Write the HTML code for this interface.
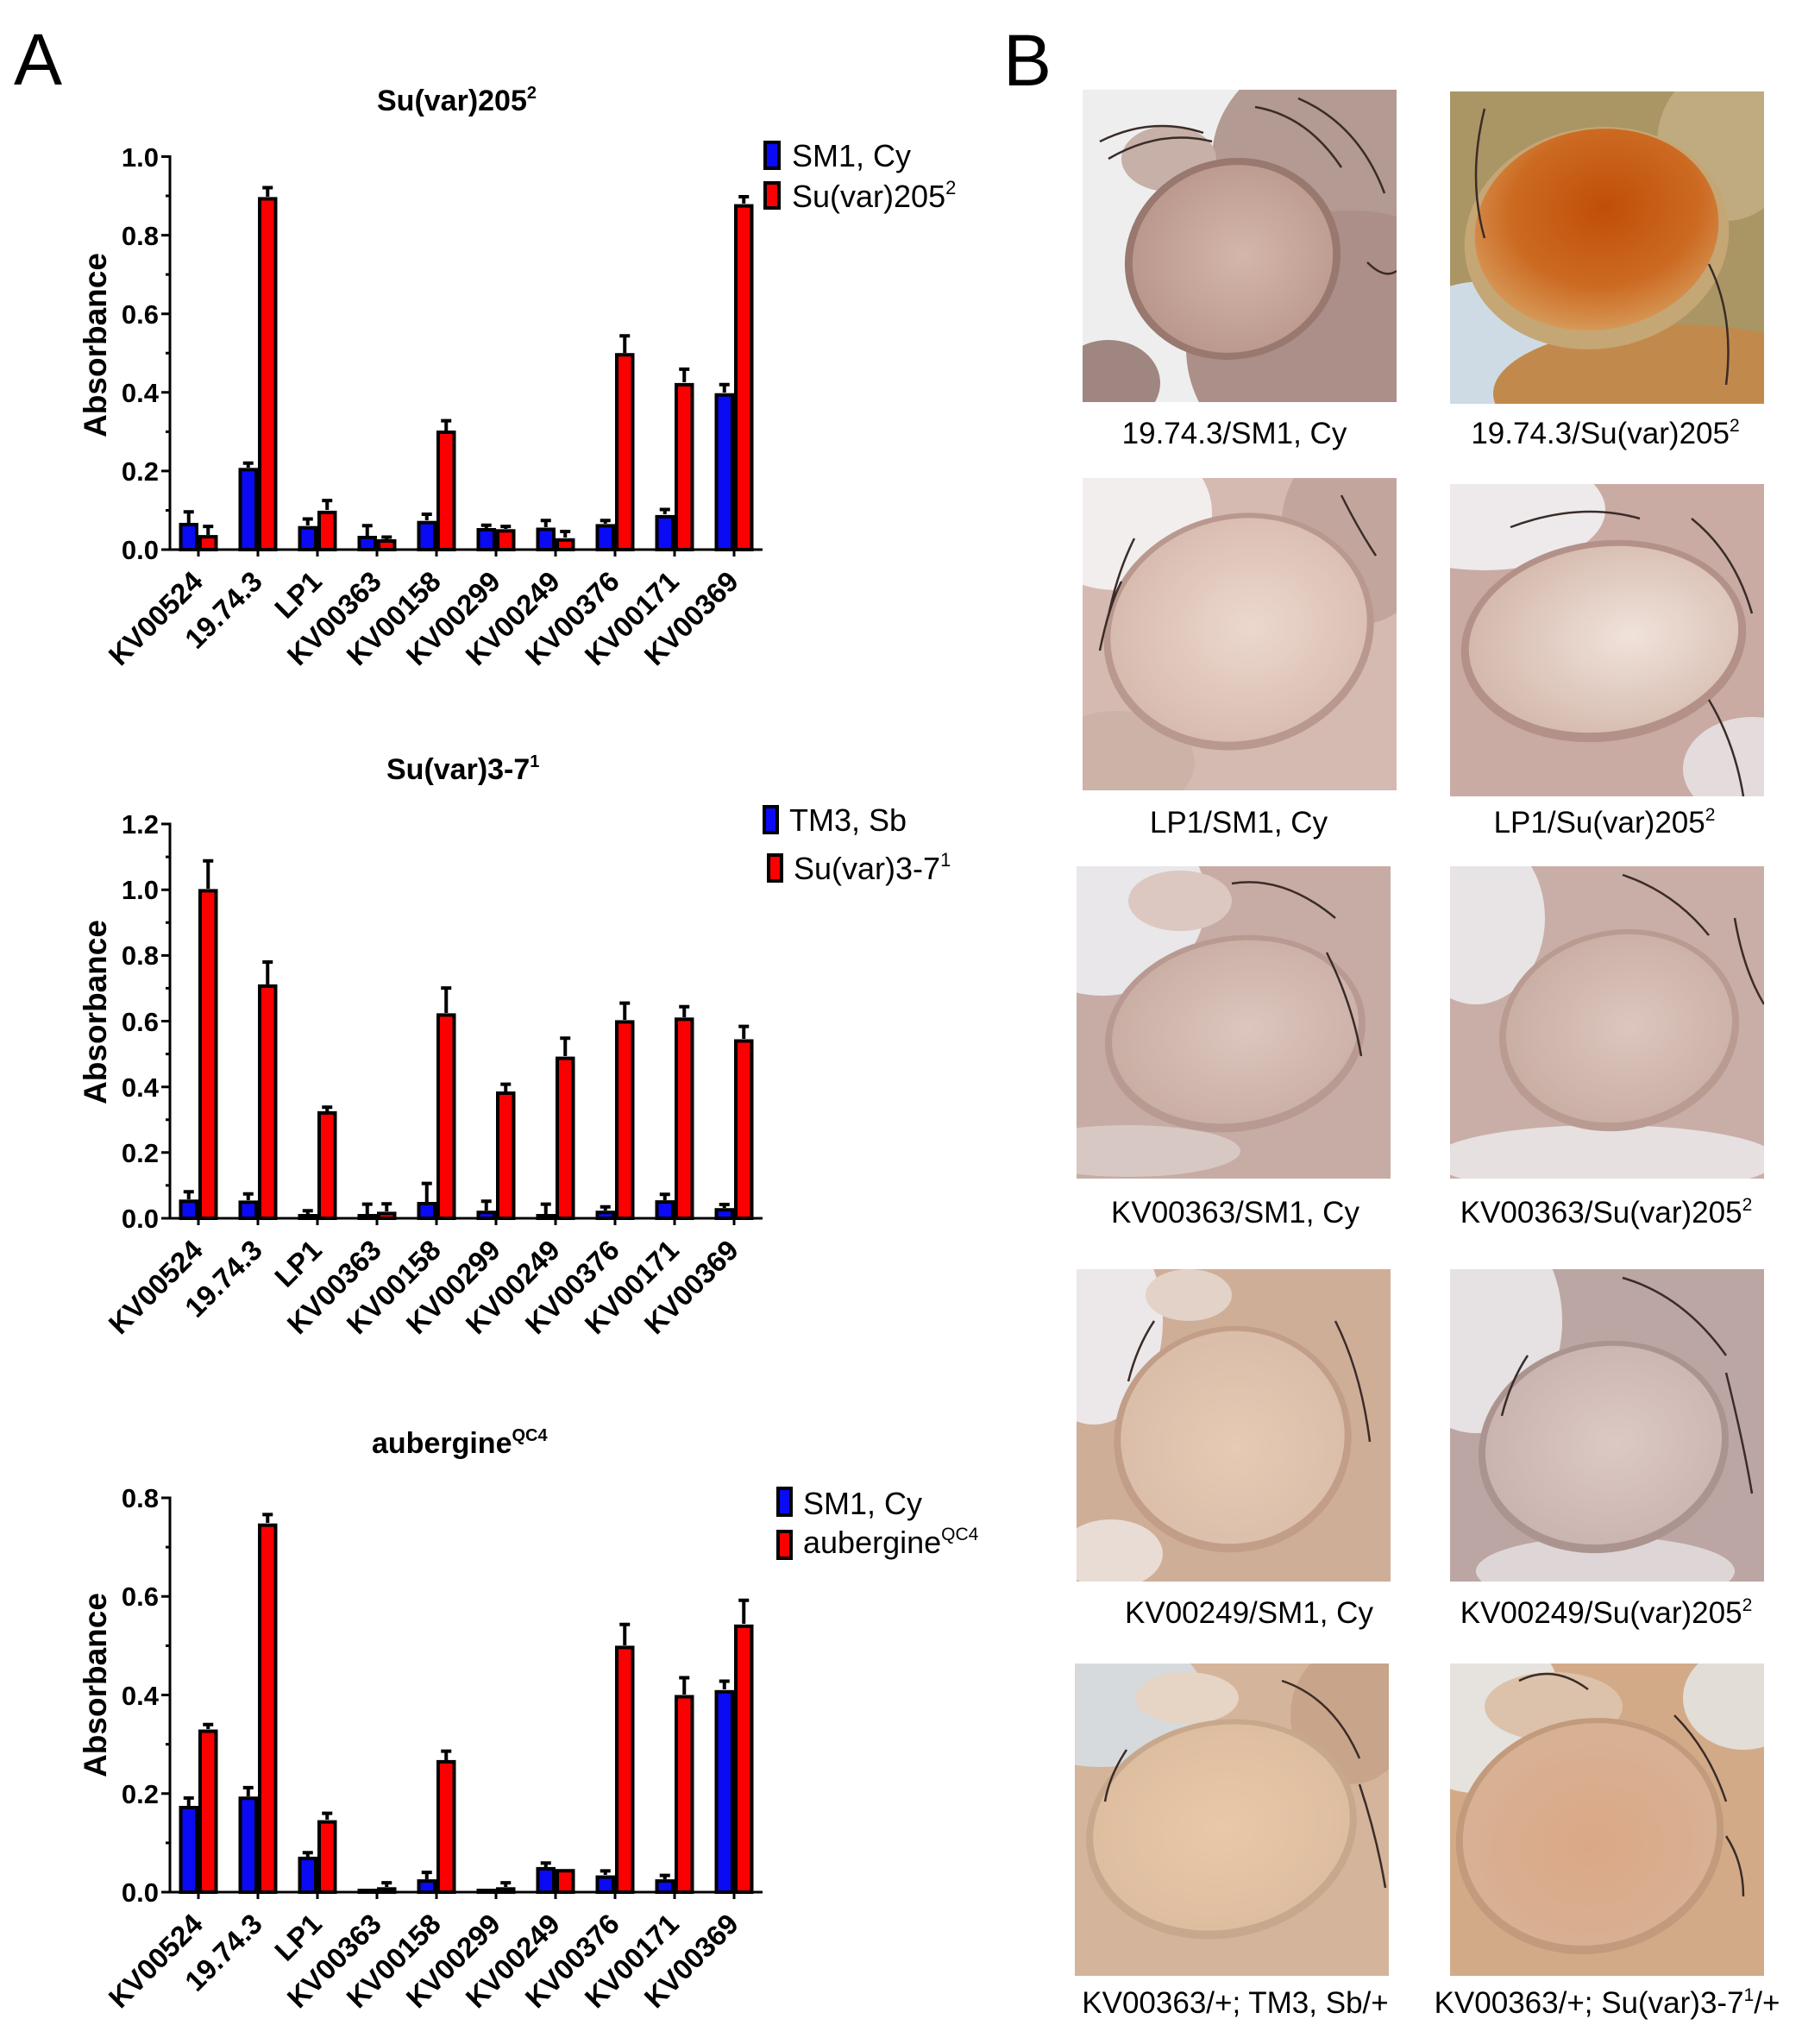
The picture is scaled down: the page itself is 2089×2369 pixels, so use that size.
<!DOCTYPE html>
<html><head><meta charset="utf-8">
<style>
html,body{margin:0;padding:0;background:#fff;}
svg{display:block;}
.f{font-family:"Liberation Sans",Arial,sans-serif;}
.tk{font:bold 31px "Liberation Sans",Arial,sans-serif;text-anchor:end;}
.xl{font:bold 33px "Liberation Sans",Arial,sans-serif;text-anchor:end;}
.yl{font:bold 37px "Liberation Sans",Arial,sans-serif;text-anchor:middle;}
.tt{font:bold 34px "Liberation Sans",Arial,sans-serif;}
.lg{font:36px "Liberation Sans",Arial,sans-serif;}
.pl{font:35px "Liberation Sans",Arial,sans-serif;text-anchor:middle;}
.bl{fill:#0a0af5;stroke:#000;stroke-width:4;}
.rd{fill:#fb0000;stroke:#000;stroke-width:4;}
.ax{stroke:#000;stroke-width:3;fill:none;}
.eb{stroke:#000;stroke-width:4;fill:none;}
.br{stroke:#3a2c28;stroke-width:2.5;fill:none;}
</style></head>
<body>
<svg width="2089" height="2369" viewBox="0 0 2089 2369" xmlns="http://www.w3.org/2000/svg">
<defs>
<clipPath id="cp"><rect x="0" y="0" width="364" height="362"/></clipPath>
<radialGradient id="e1" cx="0.55" cy="0.5" r="0.6"><stop offset="0" stop-color="#d4b6aa"/><stop offset="1" stop-color="#b8958a"/></radialGradient>
<radialGradient id="e2" cx="0.55" cy="0.4" r="0.65"><stop offset="0" stop-color="#c04e08"/><stop offset="0.6" stop-color="#cc6a22"/><stop offset="1" stop-color="#d8a060"/></radialGradient>
<radialGradient id="e3" cx="0.55" cy="0.5" r="0.6"><stop offset="0" stop-color="#ecd8ce"/><stop offset="1" stop-color="#d6b8ac"/></radialGradient>
<radialGradient id="e4" cx="0.6" cy="0.5" r="0.6"><stop offset="0" stop-color="#f0e2da"/><stop offset="1" stop-color="#d4b8ac"/></radialGradient>
<radialGradient id="e5" cx="0.55" cy="0.5" r="0.6"><stop offset="0" stop-color="#dcc6be"/><stop offset="1" stop-color="#c8aca2"/></radialGradient>
<radialGradient id="e7" cx="0.5" cy="0.55" r="0.6"><stop offset="0" stop-color="#e6cab4"/><stop offset="1" stop-color="#d8bca8"/></radialGradient>
<radialGradient id="e8" cx="0.55" cy="0.5" r="0.6"><stop offset="0" stop-color="#dcc8c4"/><stop offset="1" stop-color="#c8b2ae"/></radialGradient>
<radialGradient id="e9" cx="0.5" cy="0.5" r="0.6"><stop offset="0" stop-color="#e8c8a8"/><stop offset="1" stop-color="#dcbc9e"/></radialGradient>
<radialGradient id="e10" cx="0.5" cy="0.55" r="0.6"><stop offset="0" stop-color="#daa886"/><stop offset="1" stop-color="#d8b296"/></radialGradient>
</defs>

<!-- Panel letters -->
<text x="16" y="98" class="f" font-size="84">A</text>
<text x="1163" y="99" class="f" font-size="84">B</text>

<!-- ============ CHART 1 ============ -->
<text x="437" y="128" class="tt">Su(var)205<tspan font-size="20" dy="-14">2</tspan></text>
<text transform="translate(123,400) rotate(-90)" class="yl">Absorbance</text>
<path class="ax" d="M197 180V638.5M195.5 637H884M187 637H197M187 545.9H197M187 454.8H197M187 363.7H197M187 272.6H197M187 181.5H197M192 591.45H197M192 500.35H197M192 409.25H197M192 318.15H197M192 227.05H197M230 637V645M299 637V645M368 637V645M437 637V645M506 637V645M575 637V645M644 637V645M713 637V645M782 637V645M851 637V645"/>
<text x="184" y="648" class="tk">0.0</text>
<text x="184" y="557" class="tk">0.2</text>
<text x="184" y="466" class="tk">0.4</text>
<text x="184" y="375" class="tk">0.6</text>
<text x="184" y="284" class="tk">0.8</text>
<text x="184" y="193" class="tk">1.0</text>
<g>
<rect class="bl" x="209.5" y="608" width="18.5" height="29"/>
<rect class="rd" x="232" y="622.1" width="18.5" height="14.9"/>
<rect class="bl" x="278.5" y="544.3" width="18.5" height="92.7"/>
<rect class="rd" x="301" y="230.4" width="18.5" height="406.6"/>
<rect class="bl" x="347.5" y="611.7" width="18.5" height="25.3"/>
<rect class="rd" x="370" y="593.9" width="18.5" height="43.1"/>
<rect class="bl" x="416.5" y="623" width="18.5" height="14"/>
<rect class="rd" x="439" y="627" width="18.5" height="10"/>
<rect class="bl" x="485.5" y="605.7" width="18.5" height="31.3"/>
<rect class="rd" x="508" y="501" width="18.5" height="136"/>
<rect class="bl" x="554.5" y="614" width="18.5" height="23"/>
<rect class="rd" x="577" y="615.3" width="18.5" height="21.7"/>
<rect class="bl" x="623.5" y="613.5" width="18.5" height="23.5"/>
<rect class="rd" x="646" y="625.8" width="18.5" height="11.2"/>
<rect class="bl" x="692.5" y="609.4" width="18.5" height="27.6"/>
<rect class="rd" x="715" y="411.2" width="18.5" height="225.8"/>
<rect class="bl" x="761.5" y="598.9" width="18.5" height="38.1"/>
<rect class="rd" x="784" y="445.9" width="18.5" height="191.1"/>
<rect class="bl" x="830.5" y="457.7" width="18.5" height="179.3"/>
<rect class="rd" x="853" y="238.6" width="18.5" height="398.4"/>
</g>
<path class="eb" d="M218.75 606V593.3M212.75 593.3H224.75M241.25 620V610.1M235.25 610.1H247.25M287.75 542V536.8M281.75 536.8H293.75M310.25 228V217.5M304.25 217.5H316.25M356.75 609V601.5M350.75 601.5H362.75M379.25 591V580.1M373.25 580.1H385.25M425.75 621V609.3M419.75 609.3H431.75M448.25 625V622.5M442.25 622.5H454.25M494.75 603V596M488.75 596H500.75M517.25 499V487.6M511.25 487.6H523.25M563.75 612V608.8M557.75 608.8H569.75M586.25 613V610.1M580.25 610.1H592.25M632.75 611V603.3M626.75 603.3H638.75M655.25 623V616M649.25 616H661.25M701.75 607V603.3M695.75 603.3H707.75M724.25 409V389.2M718.25 389.2H730.25M770.75 596V590.5M764.75 590.5H776.75M793.25 443V427.9M787.25 427.9H799.25M839.75 455V445.7M833.75 445.7H845.75M862.25 236V228M856.25 228H868.25"/>
<text transform="translate(237,676) rotate(-45)" class="xl">KV00524</text>
<text transform="translate(306,676) rotate(-45)" class="xl">19.74.3</text>
<text transform="translate(375,676) rotate(-45)" class="xl">LP1</text>
<text transform="translate(444,676) rotate(-45)" class="xl">KV00363</text>
<text transform="translate(513,676) rotate(-45)" class="xl">KV00158</text>
<text transform="translate(582,676) rotate(-45)" class="xl">KV00299</text>
<text transform="translate(651,676) rotate(-45)" class="xl">KV00249</text>
<text transform="translate(720,676) rotate(-45)" class="xl">KV00376</text>
<text transform="translate(789,676) rotate(-45)" class="xl">KV00171</text>
<text transform="translate(858,676) rotate(-45)" class="xl">KV00369</text>
<rect class="bl" x="887" y="165" width="16" height="30"/>
<rect class="rd" x="887" y="212" width="16" height="29"/>
<text x="918" y="193" class="lg">SM1, Cy</text>
<text x="918" y="240" class="lg">Su(var)205<tspan font-size="22" dy="-15">2</tspan></text>

<!-- ============ CHART 2 ============ -->
<g transform="translate(0,-2)">
<text x="448" y="905" class="tt">Su(var)3-7<tspan font-size="20" dy="-14">1</tspan></text>
<text transform="translate(123,1175) rotate(-90)" class="yl">Absorbance</text>
<path class="ax" d="M197 955.5V1415.5M195.5 1414H884M187 1414H197M187 1337.8H197M187 1261.7H197M187 1185.5H197M187 1109.4H197M187 1033.2H197M187 957H197M192 1375.9H197M192 1299.8H197M192 1223.6H197M192 1147.4H197M192 1071.3H197M192 995.1H197M230 1414V1422M299 1414V1422M368 1414V1422M437 1414V1422M506 1414V1422M575 1414V1422M644 1414V1422M713 1414V1422M782 1414V1422M851 1414V1422"/>
<text x="184" y="1425" class="tk">0.0</text>
<text x="184" y="1349" class="tk">0.2</text>
<text x="184" y="1273" class="tk">0.4</text>
<text x="184" y="1197" class="tk">0.6</text>
<text x="184" y="1120" class="tk">0.8</text>
<text x="184" y="1044" class="tk">1.0</text>
<text x="184" y="968" class="tk">1.2</text>
<g>
<rect class="bl" x="209.5" y="1394.3" width="18.5" height="19.7"/>
<rect class="rd" x="232" y="1034.4" width="18.5" height="379.6"/>
<rect class="bl" x="278.5" y="1395.4" width="18.5" height="18.6"/>
<rect class="rd" x="301" y="1144.9" width="18.5" height="269.1"/>
<rect class="bl" x="347.5" y="1411" width="18.5" height="3"/>
<rect class="rd" x="370" y="1291.9" width="18.5" height="122.1"/>
<rect class="bl" x="416.5" y="1411" width="18.5" height="3"/>
<rect class="rd" x="439" y="1408.4" width="18.5" height="5.6"/>
<rect class="bl" x="485.5" y="1397" width="18.5" height="17"/>
<rect class="rd" x="508" y="1178.4" width="18.5" height="235.6"/>
<rect class="bl" x="554.5" y="1407.2" width="18.5" height="6.8"/>
<rect class="rd" x="577" y="1269" width="18.5" height="145"/>
<rect class="bl" x="623.5" y="1411" width="18.5" height="3"/>
<rect class="rd" x="646" y="1228.6" width="18.5" height="185.4"/>
<rect class="bl" x="692.5" y="1407.2" width="18.5" height="6.8"/>
<rect class="rd" x="715" y="1186.4" width="18.5" height="227.6"/>
<rect class="bl" x="761.5" y="1395.1" width="18.5" height="18.9"/>
<rect class="rd" x="784" y="1183.3" width="18.5" height="230.7"/>
<rect class="bl" x="830.5" y="1404.2" width="18.5" height="9.8"/>
<rect class="rd" x="853" y="1208.5" width="18.5" height="205.5"/>
</g>
<path class="eb" d="M218.75 1392V1383.2M212.75 1383.2H224.75M241.25 1032V999.7M235.25 999.7H247.25M287.75 1393V1385.8M281.75 1385.8H293.75M310.25 1143V1117M304.25 1117H316.25M356.75 1409V1405.2M350.75 1405.2H362.75M379.25 1290V1285.3M373.25 1285.3H385.25M425.75 1409V1397.6M419.75 1397.6H431.75M448.25 1406V1397.2M442.25 1397.2H454.25M494.75 1395V1373.6M488.75 1373.6H500.75M517.25 1176V1147.1M511.25 1147.1H523.25M563.75 1405V1394.2M557.75 1394.2H569.75M586.25 1267V1258.6M580.25 1258.6H592.25M632.75 1409V1397.6M626.75 1397.6H638.75M655.25 1226V1205.3M649.25 1205.3H661.25M701.75 1405V1400.7M695.75 1400.7H707.75M724.25 1184V1164.6M718.25 1164.6H730.25M770.75 1393V1386.2M764.75 1386.2H776.75M793.25 1181V1168.8M787.25 1168.8H799.25M839.75 1402V1398M833.75 1398H845.75M862.25 1206V1191.6M856.25 1191.6H868.25"/>
<text transform="translate(237,1453) rotate(-45)" class="xl">KV00524</text>
<text transform="translate(306,1453) rotate(-45)" class="xl">19.74.3</text>
<text transform="translate(375,1453) rotate(-45)" class="xl">LP1</text>
<text transform="translate(444,1453) rotate(-45)" class="xl">KV00363</text>
<text transform="translate(513,1453) rotate(-45)" class="xl">KV00158</text>
<text transform="translate(582,1453) rotate(-45)" class="xl">KV00299</text>
<text transform="translate(651,1453) rotate(-45)" class="xl">KV00249</text>
<text transform="translate(720,1453) rotate(-45)" class="xl">KV00376</text>
<text transform="translate(789,1453) rotate(-45)" class="xl">KV00171</text>
<text transform="translate(858,1453) rotate(-45)" class="xl">KV00369</text>
<rect class="bl" x="886" y="937" width="15" height="30"/>
<rect class="rd" x="891" y="993" width="15" height="30"/>
<text x="915" y="965" class="lg">TM3, Sb</text>
<text x="920" y="1021" class="lg">Su(var)3-7<tspan font-size="22" dy="-15">1</tspan></text>
</g>

<!-- ============ CHART 3 ============ -->
<text x="431" y="1684" class="tt">aubergine<tspan font-size="20" dy="-14">QC4</tspan></text>
<text transform="translate(123,1953) rotate(-90)" class="yl">Absorbance</text>
<path class="ax" d="M197 1734.5V2194.5M195.5 2193H884M187 2193H197M187 2078.75H197M187 1964.5H197M187 1850.25H197M187 1736H197M192 2135.9H197M192 2021.6H197M192 1907.4H197M192 1793.1H197M230 2193V2201M299 2193V2201M368 2193V2201M437 2193V2201M506 2193V2201M575 2193V2201M644 2193V2201M713 2193V2201M782 2193V2201M851 2193V2201"/>
<text x="184" y="2204" class="tk">0.0</text>
<text x="184" y="2090" class="tk">0.2</text>
<text x="184" y="1976" class="tk">0.4</text>
<text x="184" y="1861" class="tk">0.6</text>
<text x="184" y="1747" class="tk">0.8</text>
<g>
<rect class="bl" x="209.5" y="2095" width="18.5" height="98"/>
<rect class="rd" x="232" y="2006.5" width="18.5" height="186.5"/>
<rect class="bl" x="278.5" y="2084.2" width="18.5" height="108.8"/>
<rect class="rd" x="301" y="1767.7" width="18.5" height="425.3"/>
<rect class="bl" x="347.5" y="2153.9" width="18.5" height="39.1"/>
<rect class="rd" x="370" y="2111.6" width="18.5" height="81.4"/>
<rect class="bl" x="416.5" y="2191" width="18.5" height="2"/>
<rect class="rd" x="439" y="2189.3" width="18.5" height="3.7"/>
<rect class="bl" x="485.5" y="2180.1" width="18.5" height="12.9"/>
<rect class="rd" x="508" y="2041.9" width="18.5" height="151.1"/>
<rect class="bl" x="554.5" y="2191" width="18.5" height="2"/>
<rect class="rd" x="577" y="2189.3" width="18.5" height="3.7"/>
<rect class="bl" x="623.5" y="2165.9" width="18.5" height="27.1"/>
<rect class="rd" x="646" y="2168.2" width="18.5" height="24.8"/>
<rect class="bl" x="692.5" y="2175.6" width="18.5" height="17.4"/>
<rect class="rd" x="715" y="1909.4" width="18.5" height="283.6"/>
<rect class="bl" x="761.5" y="2180.1" width="18.5" height="12.9"/>
<rect class="rd" x="784" y="1966.5" width="18.5" height="226.5"/>
<rect class="bl" x="830.5" y="1960.8" width="18.5" height="232.2"/>
<rect class="rd" x="853" y="1884.8" width="18.5" height="308.2"/>
</g>
<path class="eb" d="M218.75 2093V2083.9M212.75 2083.9H224.75M241.25 2004V1998.8M235.25 1998.8H247.25M287.75 2082V2071.9M281.75 2071.9H293.75M310.25 1765V1755.4M304.25 1755.4H316.25M356.75 2152V2147.3M350.75 2147.3H362.75M379.25 2109V2101.6M373.25 2101.6H385.25M448.25 2187V2182.1M442.25 2182.1H454.25M494.75 2178V2170.1M488.75 2170.1H500.75M517.25 2040V2029.6M511.25 2029.6H523.25M586.25 2187V2182.1M580.25 2182.1H592.25M632.75 2164V2159.3M626.75 2159.3H638.75M701.75 2173V2168.4M695.75 2168.4H707.75M724.25 1907V1882.8M718.25 1882.8H730.25M770.75 2178V2173.6M764.75 2173.6H776.75M793.25 1964V1944.5M787.25 1944.5H799.25M839.75 1958V1948.5M833.75 1948.5H845.75M862.25 1882V1854.8M856.25 1854.8H868.25"/>
<text transform="translate(237,2232) rotate(-45)" class="xl">KV00524</text>
<text transform="translate(306,2232) rotate(-45)" class="xl">19.74.3</text>
<text transform="translate(375,2232) rotate(-45)" class="xl">LP1</text>
<text transform="translate(444,2232) rotate(-45)" class="xl">KV00363</text>
<text transform="translate(513,2232) rotate(-45)" class="xl">KV00158</text>
<text transform="translate(582,2232) rotate(-45)" class="xl">KV00299</text>
<text transform="translate(651,2232) rotate(-45)" class="xl">KV00249</text>
<text transform="translate(720,2232) rotate(-45)" class="xl">KV00376</text>
<text transform="translate(789,2232) rotate(-45)" class="xl">KV00171</text>
<text transform="translate(858,2232) rotate(-45)" class="xl">KV00369</text>
<rect class="bl" x="902" y="1725" width="15" height="31"/>
<rect class="rd" x="902" y="1775" width="15" height="31"/>
<text x="931" y="1755" class="lg">SM1, Cy</text>
<text x="931" y="1800" class="lg">aubergine<tspan font-size="21" dy="-15">QC4</tspan></text>

<!-- ============ PANEL B PHOTOS ============ -->
<g transform="translate(1255,104)"><g clip-path="url(#cp)">
<rect width="364" height="362" fill="#efeeef"/>
<ellipse cx="300" cy="80" rx="150" ry="130" fill="#b39a92"/>
<ellipse cx="310" cy="300" rx="190" ry="160" fill="#ab8f88"/>
<ellipse cx="30" cy="340" rx="60" ry="50" fill="#a08680"/>
<ellipse cx="100" cy="80" rx="55" ry="38" fill="#c7b0a8"/>
<ellipse cx="174" cy="196" rx="126" ry="116" transform="rotate(-18 174 196)" fill="#98786f"/>
<ellipse cx="174" cy="196" rx="117" ry="108" transform="rotate(-18 174 196)" fill="url(#e1)"/>
<path class="br" d="M20 60Q80 30 140 50M30 80Q90 45 150 60M200 20Q260 30 300 90M250 10Q320 40 350 120M330 200Q350 220 364 210"/>
</g></g>
<g transform="translate(1681,106)"><g clip-path="url(#cp)">
<rect width="364" height="362" fill="#aa9564"/>
<ellipse cx="320" cy="60" rx="80" ry="90" fill="#c0ab80"/>
<ellipse cx="40" cy="300" rx="110" ry="80" fill="#cfdbe4"/>
<ellipse cx="260" cy="350" rx="210" ry="80" fill="#c18a4c"/>
<ellipse cx="170" cy="170" rx="154" ry="128" transform="rotate(-10 170 170)" fill="#c5a675"/>
<ellipse cx="170" cy="160" rx="142" ry="116" transform="rotate(-10 170 160)" fill="url(#e2)"/>
<path class="br" d="M300 200Q330 260 320 340M40 20Q20 100 40 170"/>
</g></g>
<g transform="translate(1255,554)"><g clip-path="url(#cp)">
<rect width="364" height="363" fill="#d4bab0"/>
<ellipse cx="40" cy="40" rx="110" ry="90" fill="#f2eeee"/>
<ellipse cx="320" cy="60" rx="90" ry="110" fill="#c2a69e"/>
<ellipse cx="40" cy="330" rx="90" ry="60" fill="#cdb2a8"/>
<ellipse cx="181" cy="178" rx="158" ry="136" transform="rotate(-15 181 178)" fill="#b9998f"/>
<ellipse cx="181" cy="176" rx="150" ry="128" transform="rotate(-15 181 176)" fill="url(#e3)"/>
<path class="br" d="M60 70Q40 110 30 160M45 120Q30 150 20 200M300 20Q320 60 340 90"/>
</g></g>
<g transform="translate(1681,561)"><g clip-path="url(#cp)">
<rect width="364" height="362" fill="#c9aba3"/>
<ellipse cx="40" cy="30" rx="140" ry="70" fill="#eeeaec"/>
<ellipse cx="350" cy="330" rx="80" ry="60" fill="#e4dcdc"/>
<ellipse cx="178" cy="182" rx="166" ry="116" transform="rotate(-8 178 182)" fill="#b39188"/>
<ellipse cx="178" cy="180" rx="157" ry="107" transform="rotate(-8 178 180)" fill="url(#e4)"/>
<path class="br" d="M70 50Q150 20 220 40M280 40Q330 80 350 150M300 250Q330 300 340 362"/>
</g></g>
<g transform="translate(1248,1004)"><g clip-path="url(#cp)">
<rect width="364" height="365" fill="#c7aca5"/>
<ellipse cx="30" cy="40" rx="120" ry="110" fill="#e9e7ea"/>
<ellipse cx="60" cy="330" rx="130" ry="30" fill="#d8c8c4"/>
<ellipse cx="120" cy="40" rx="60" ry="35" fill="#dcc8c0"/>
<ellipse cx="184" cy="194" rx="152" ry="113" transform="rotate(-10 184 194)" fill="#b89a92"/>
<ellipse cx="184" cy="192" rx="144" ry="105" transform="rotate(-10 184 192)" fill="url(#e5)"/>
<path class="br" d="M180 20Q240 10 300 60M290 100Q320 160 330 220"/>
</g></g>
<g transform="translate(1681,1004)"><g clip-path="url(#cp)">
<rect width="364" height="365" fill="#c9aea7"/>
<ellipse cx="30" cy="60" rx="80" ry="100" fill="#e8e4e6"/>
<ellipse cx="180" cy="340" rx="200" ry="40" fill="#e6e0e0"/>
<ellipse cx="196" cy="190" rx="140" ry="116" transform="rotate(-12 196 190)" fill="#b99b92"/>
<ellipse cx="196" cy="188" rx="132" ry="108" transform="rotate(-12 196 188)" fill="url(#e5)"/>
<path class="br" d="M200 10Q260 30 300 80M330 60Q340 120 364 160"/>
</g></g>
<g transform="translate(1248,1471)"><g clip-path="url(#cp)">
<rect width="364" height="363" fill="#cfae98"/>
<ellipse cx="20" cy="60" rx="80" ry="120" fill="#ece8ea"/>
<ellipse cx="40" cy="330" rx="60" ry="40" fill="#e8dcd4"/>
<ellipse cx="130" cy="30" rx="50" ry="30" fill="#e2d2c8"/>
<ellipse cx="181" cy="197" rx="138" ry="131" transform="rotate(-12 181 197)" fill="#c29e88"/>
<ellipse cx="181" cy="195" rx="130" ry="123" transform="rotate(-12 181 195)" fill="url(#e7)"/>
<path class="br" d="M300 60Q330 120 340 200M90 60Q70 90 60 130"/>
</g></g>
<g transform="translate(1681,1471)"><g clip-path="url(#cp)">
<rect width="364" height="363" fill="#bca6a3"/>
<ellipse cx="30" cy="60" rx="100" ry="130" fill="#e6e2e3"/>
<ellipse cx="180" cy="350" rx="150" ry="40" fill="#ded6d6"/>
<ellipse cx="178" cy="206" rx="146" ry="122" transform="rotate(-12 178 206)" fill="#ab948f"/>
<ellipse cx="178" cy="204" rx="138" ry="114" transform="rotate(-12 178 204)" fill="url(#e8)"/>
<path class="br" d="M200 10Q270 30 320 100M320 120Q340 200 350 260M90 100Q70 130 60 170"/>
</g></g>
<g transform="translate(1246,1928)"><g clip-path="url(#cp)">
<rect width="364" height="362" fill="#d4b49a"/>
<ellipse cx="30" cy="40" rx="120" ry="80" fill="#d6dadc"/>
<ellipse cx="320" cy="60" rx="70" ry="80" fill="#c8a48a"/>
<ellipse cx="130" cy="40" rx="60" ry="30" fill="#e6d4c4"/>
<ellipse cx="170" cy="192" rx="158" ry="126" transform="rotate(-12 170 192)" fill="#c8a88c"/>
<ellipse cx="170" cy="190" rx="150" ry="118" transform="rotate(-12 170 190)" fill="url(#e9)"/>
<path class="br" d="M240 20Q300 40 330 110M330 140Q350 200 360 260M60 100Q40 130 35 160"/>
</g></g>
<g transform="translate(1681,1928)"><g clip-path="url(#cp)">
<rect width="364" height="362" fill="#d3aa88"/>
<ellipse cx="30" cy="50" rx="100" ry="100" fill="#e6e2de"/>
<ellipse cx="340" cy="40" rx="70" ry="60" fill="#e2ddd6"/>
<ellipse cx="120" cy="50" rx="80" ry="40" fill="#dcc2aa"/>
<ellipse cx="162" cy="200" rx="156" ry="136" transform="rotate(-12 162 200)" fill="#c29a7c"/>
<ellipse cx="162" cy="198" rx="148" ry="128" transform="rotate(-12 162 198)" fill="url(#e10)"/>
<path class="br" d="M80 20Q120 0 160 30M260 60Q300 100 320 160M320 200Q340 230 340 270"/>
</g></g>

<!-- Photo labels -->
<text x="1431" y="514" class="pl">19.74.3/SM1, Cy</text>
<text x="1861" y="514" class="pl">19.74.3/Su(var)205<tspan font-size="21" dy="-14">2</tspan></text>
<text x="1436" y="965" class="pl">LP1/SM1, Cy</text>
<text x="1860" y="965" class="pl">LP1/Su(var)205<tspan font-size="21" dy="-14">2</tspan></text>
<text x="1432" y="1417" class="pl">KV00363/SM1, Cy</text>
<text x="1862" y="1417" class="pl">KV00363/Su(var)205<tspan font-size="21" dy="-14">2</tspan></text>
<text x="1448" y="1881" class="pl">KV00249/SM1, Cy</text>
<text x="1862" y="1881" class="pl">KV00249/Su(var)205<tspan font-size="21" dy="-14">2</tspan></text>
<text x="1432" y="2333" class="pl">KV00363/+; TM3, Sb/+</text>
<text x="1863" y="2333" class="pl">KV00363/+; Su(var)3-7<tspan font-size="21" dy="-14">1</tspan><tspan dy="14">/+</tspan></text>
</svg>
</body></html>
